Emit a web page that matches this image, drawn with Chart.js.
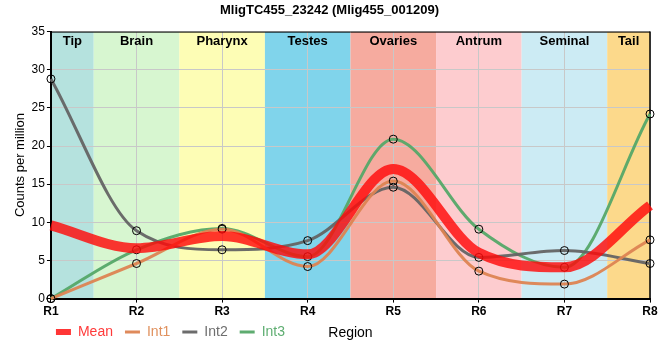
<!DOCTYPE html>
<html><head><meta charset="utf-8">
<script src="https://cdn.jsdelivr.net/npm/chart.js@4"></script>
<style>html,body{margin:0;padding:0;background:#fff}#wrap{width:660px;height:360px;position:relative}</style>
</head><body><div id="wrap"><canvas id="c"></canvas></div>
<script>
const categories = ['R1','R2','R3','R4','R5','R6','R7','R8'];
const regionNames = ['Tip','Brain','Pharynx','Testes','Ovaries','Antrum','Seminal','Tail'];
const regionColors = ['#b5e2de','#d7f6d0','#fdfdb5','#80d4eb','#f6ab9f','#fdcccf','#ccebf4','#fcd98b'];
const meanValues = [9.6, 6.6, 8.2, 5.8, 17.0, 6.0, 4.1, 12.2];
const int1Values = [0, 4.6, 9.1, 4.2, 15.4, 3.6, 1.9, 7.7];
const int2Values = [28.8, 8.9, 6.4, 7.6, 14.6, 5.4, 6.3, 4.6];
const int3Values = [0, 6.4, 9.2, 5.5, 20.9, 9.1, 4.1, 24.2];
const seriesNames = ['Mean','Int1','Int2','Int3'];
const seriesColors = ['rgba(255,10,10,0.82)','rgba(221,132,82,0.95)','rgba(100,100,100,0.95)','rgba(85,168,104,0.95)'];
const legendTextColors = ['#ff3a3a','#e0915e','#6e6e6e','#5fae72'];
const yTickValues = [0,5,10,15,20,25,30,35];

const FONT = '"Liberation Sans", Arial, sans-serif';
const LEGEND_PAD = 12;

const bandPlugin = {
  id: 'bands',
  afterLayout(chart) {
    const L = chart.legend;
    if (L) {
      L.left = chart.chartArea.left - 7;
      L.top -= 8;
      L.bottom -= 8;
    }
  },
  beforeDraw(chart) {
    const {ctx, chartArea: a, scales: {x}} = chart;
    ctx.save();
    regionNames.forEach((n, i) => {
      const x0 = Math.max(a.left, x.getPixelForValue(i - 0.5));
      const x1 = Math.min(a.right, x.getPixelForValue(i + 0.5));
      ctx.fillStyle = regionColors[i];
      ctx.fillRect(x0, a.top, x1 - x0, a.bottom - a.top);
    });
    ctx.restore();
  },
  beforeDatasetsDraw(chart) {
    const {ctx, chartArea: a, scales: {x}} = chart;
    ctx.save();
    ctx.font = 'bold 13px ' + FONT;
    ctx.fillStyle = '#000';
    ctx.textAlign = 'center';
    ctx.textBaseline = 'middle';
    regionNames.forEach((n, i) => {
      const x0 = Math.max(a.left, x.getPixelForValue(i - 0.5));
      const x1 = Math.min(a.right, x.getPixelForValue(i + 0.5));
      ctx.fillText(n, (x0 + x1) / 2, a.top + 10);
    });
    ctx.strokeStyle = '#000';
    ctx.lineWidth = 1;
    ctx.beginPath();
    ctx.moveTo(a.left, a.top + 0.5);
    ctx.lineTo(a.right, a.top + 0.5);
    ctx.stroke();
    ctx.lineWidth = 1.5;
    ctx.beginPath();
    ctx.moveTo(a.right, a.top);
    ctx.lineTo(a.right, a.bottom);
    ctx.stroke();
    ctx.restore();
  },
  afterDraw(chart) {
    const {ctx, chartArea: a} = chart;
    const y = chart.legend.top + LEGEND_PAD + 8;
    ctx.save();
    ctx.font = '14px ' + FONT;
    ctx.fillStyle = '#000';
    ctx.textAlign = 'center';
    ctx.textBaseline = 'middle';
    ctx.fillText('Region', (a.left + a.right) / 2, y);
    ctx.restore();
  }
};

const mk = (i, data, w, pts) => ({
  label: seriesNames[i], data, borderColor: seriesColors[i], backgroundColor: seriesColors[i],
  borderWidth: w, cubicInterpolationMode: 'monotone', fill: false,
  pointRadius: pts ? 4 : 0, pointBorderColor: '#000', pointBorderWidth: 1,
  pointBackgroundColor: 'rgba(0,0,0,0)', clip: false
});

new Chart(document.getElementById('c'), {
  type: 'line',
  data: {
    labels: categories,
    datasets: [
      mk(0, meanValues, 10, false),
      mk(1, int1Values, 3, true),
      mk(2, int2Values, 3, true),
      mk(3, int3Values, 3, true)
    ]
  },
  options: {
    responsive: true, maintainAspectRatio: false, animation: false,
    layout: {padding: {left: 9, right: 10, top: 0, bottom: 3}},
    plugins: {
      tooltip: {enabled: false},
      title: {display: true, text: 'MligTC455_23242 (Mlig455_001209)', color: '#000',
        font: {family: FONT, size: 13, weight: 'bold'}, padding: {top: 3, bottom: 13}},
      legend: {
        position: 'bottom', align: 'start', fullSize: false,
        labels: {
          usePointStyle: true, pointStyleWidth: 15, boxWidth: 15, boxHeight: 6, padding: LEGEND_PAD,
          font: {family: FONT, size: 14},
          generateLabels: (chart) => chart.data.datasets.map((ds, i) => ({
            text: ds.label, fillStyle: seriesColors[i], strokeStyle: seriesColors[i],
            lineWidth: i === 0 ? 0 : 3, pointStyle: i === 0 ? 'rect' : 'line',
            fontColor: legendTextColors[i], hidden: false, datasetIndex: i
          }))
        }
      }
    },
    scales: {
      x: {
        offset: false,
        grid: {color: '#c8c8c8', lineWidth: 1, tickLength: 4, tickColor: '#000', drawTicks: true},
        border: {color: '#000', width: 2},
        ticks: {color: '#000', font: {family: FONT, size: 12, weight: 'bold'}, padding: 2, maxRotation: 0}
      },
      y: {
        min: 0, max: 35,
        afterBuildTicks: (s) => { s.ticks = yTickValues.map(v => ({value: v})); },
        grid: {color: '#c8c8c8', lineWidth: 1, tickLength: 4, tickColor: '#000'},
        border: {color: '#000', width: 2},
        ticks: {color: '#000', font: {family: FONT, size: 12}, padding: 2},
        title: {display: true, text: 'Counts per million', color: '#000',
          font: {family: FONT, size: 13}, padding: {top: 4, bottom: 1}}
      }
    }
  },
  plugins: [bandPlugin]
});
</script></body></html>
